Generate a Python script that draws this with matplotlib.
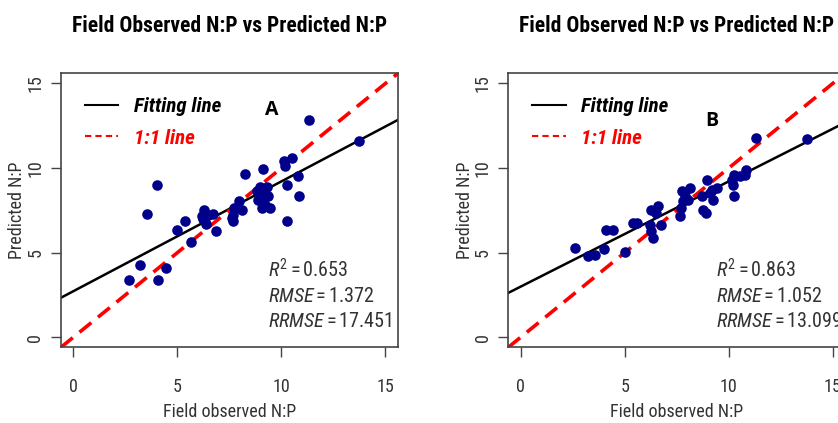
import matplotlib
matplotlib.use('Agg')
import matplotlib.pyplot as plt
from matplotlib.lines import Line2D

# Field observed vs predicted N:P, two model panels

obs_a = [2.65, 3.22, 4.04, 4.45, 3.55, 4.0, 4.98, 5.35, 5.63,
         6.27, 6.48, 6.21, 6.37, 6.69, 6.16, 6.83, 7.65, 7.69, 7.74,
         7.96, 8.09, 7.6, 8.25, 8.81, 8.97, 9.13, 9.29, 8.89, 9.21,
         9.45, 9.37, 9.05, 9.13, 10.1, 10.18, 10.5, 10.26, 10.77,
         10.82, 10.26, 11.34, 13.72]
pred_a = [3.35, 4.26, 3.35, 4.08, 7.26, 9.01, 6.31, 6.84, 5.6,
          7.49, 7.24, 6.96, 6.67, 7.3, 7.14, 6.25, 6.84, 7.24, 7.63,
          8.03, 7.53, 7.04, 9.64, 8.62, 8.85, 8.32, 8.9, 8.12, 7.83,
          7.63, 8.32, 7.63, 9.96, 10.39, 10.1, 10.59, 9.01, 9.5,
          8.33, 6.84, 12.86, 11.62]

obs_b = [2.62, 3.24, 3.56, 4.0, 4.08, 4.43, 5.02, 5.37, 5.61,
         6.21, 6.26, 6.34, 6.26, 6.6, 6.5, 6.75, 7.64, 7.72, 7.77,
         7.88, 8.12, 8.04, 7.8, 8.77, 8.9, 8.93, 8.69, 9.1, 9.26,
         9.42, 9.18, 10.15, 10.26, 10.2, 10.55, 10.84, 10.79, 10.26,
         11.33, 13.75]
pred_b = [5.27, 4.77, 4.87, 5.21, 6.35, 6.35, 5.01, 6.74, 6.74,
          6.65, 6.25, 5.86, 7.53, 7.73, 7.34, 6.65, 7.14, 7.63, 8.62,
          8.32, 8.8, 8.12, 8.03, 7.53, 7.34, 9.31, 8.32, 8.52, 8.12,
          8.8, 8.7, 9.31, 9.6, 9.01, 9.5, 9.9, 9.6, 8.32,
          11.75, 11.73]

# fitted line (intercept, slope)
fit_a = (2.72, 0.649)
fit_b = (2.99, 0.622)

stats_a = ['0.653', '1.372', '17.451']
stats_b = ['0.863', '1.052', '13.099']

fam = 'Roboto Condensed'
plt.rcParams['font.family'] = [fam, 'Liberation Sans', 'DejaVu Sans']
plt.rcParams['mathtext.fontset'] = 'custom'
plt.rcParams['mathtext.rm'] = fam
plt.rcParams['mathtext.it'] = fam + ':italic'

fig = plt.figure(figsize=(8.38, 4.23), dpi=100)
ax_a = fig.add_axes([0.0728, 0.179, 0.4021, 0.6478])
ax_b = fig.add_axes([0.6066, 0.179, 0.4021, 0.6478])

panels = [(ax_a, obs_a, pred_a, fit_a, stats_a, 'A', (0.605, 0.865)),
          (ax_b, obs_b, pred_b, fit_b, stats_b, 'B', (0.585, 0.825))]

handles = [Line2D([], [], color='black', lw=1.5),
           Line2D([], [], color='red', lw=1.5, ls=(0, (3, 2)))]

for ax, x, y, fit, st, tag, tagpos in panels:
    ax.scatter(x, y, s=58, color='#00008B', zorder=3, linewidths=0)
    ax.axline((0, fit[0]), slope=fit[1], color='black', lw=1.8, zorder=2)
    ax.axline((0, 0), slope=1, color='red', lw=2.6, ls=(0, (4.2, 2.4)), zorder=2)
    ax.set_xlim(-0.6, 15.6)
    ax.set_ylim(-0.6, 15.6)
    ax.set_xticks([0, 5, 10, 15])
    ax.set_yticks([0, 5, 10, 15])
    ax.tick_params(length=7, width=1, color='#444444', labelcolor='#333333', labelsize=13)
    ax.tick_params(axis='x', pad=15)
    ax.tick_params(axis='y', pad=5)
    for lab in ax.get_yticklabels():
        lab.set_rotation(90)
        lab.set_va('center')
    for sp in ax.spines.values():
        sp.set_color('#444444')
        sp.set_linewidth(1.2)
    ax.set_xlabel('Field observed N:P', fontsize=13, color='#333333', labelpad=5)
    ax.set_ylabel('Predicted N:P', fontsize=13, color='#333333', labelpad=0)
    ax.set_title('Field Observed N:P vs Predicted N:P', fontsize=15.5, fontweight='bold', pad=30)
    leg = ax.legend(handles, ['Fitting line', '1:1 line'], loc='upper left', frameon=False,
                    handlelength=1.6, handletextpad=0.75, borderaxespad=0.75, labelspacing=0.6,
                    prop={'weight': 'bold', 'style': 'italic', 'size': 15})
    for txt, c in zip(leg.get_texts(), ['black', 'red']):
        txt.set_color(c)
    ax.text(tagpos[0], tagpos[1], tag, transform=ax.transAxes, fontsize=14,
            fontweight='bold', ha='left', va='center', family=['Open Sans', 'DejaVu Sans'])
    ax.text(0.615, 0.255, '$R^2 = $' + st[0], transform=ax.transAxes, fontsize=14.5, color='#333333')
    ax.text(0.615, 0.165, '$RMSE = $' + st[1], transform=ax.transAxes, fontsize=14.5, color='#333333')
    ax.text(0.615, 0.075, '$RRMSE = $' + st[2], transform=ax.transAxes, fontsize=14.5, color='#333333')

fig.savefig('out.png', dpi=100)
